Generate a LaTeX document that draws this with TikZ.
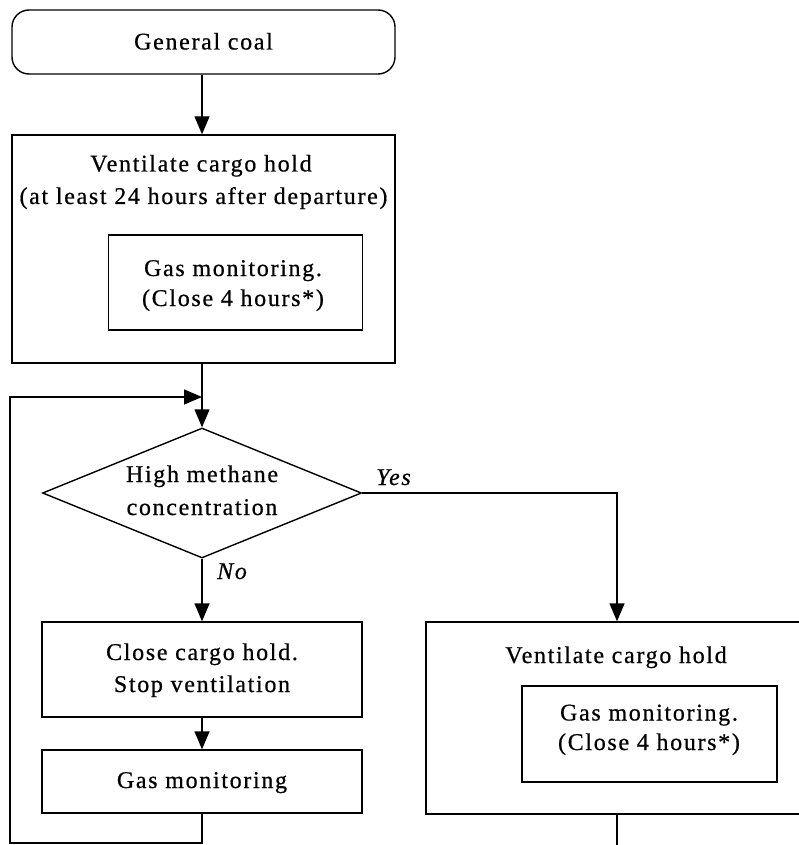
\documentclass[tikz,border=0pt]{standalone}
\usepackage{fontspec}
\setmainfont[LetterSpace=7,FakeBold=0.6]{Liberation Serif}
\usetikzlibrary{shapes.geometric,arrows.meta}
\tikzset{
  box/.style={draw, line width=1.4pt, inner sep=0pt, rectangle},
  txt/.style={font=\fontsize{24}{30}\selectfont, inner sep=0pt, anchor=base},
  itxt/.style={txt, font=\fontsize{24}{30}\selectfont\itshape},
  arr/.style={-{Triangle[length=18pt,width=15pt]}, line width=1.4pt},
  ln/.style={line width=1.4pt}
}
\begin{document}
\begin{tikzpicture}[x=1pt,y=-1pt]
\useasboundingbox (0,0) rectangle (799,845);
% top start box
\node[box, rounded corners=17pt, minimum width=383pt, minimum height=64pt] (start) at (203.5,42) {};
\node[txt] (startt) at (203.5,49.5) {General coal};
% ventilate box 1
\node[box, minimum width=383pt, minimum height=228pt] (vent1) at (203.5,249) {};
\node[txt] (v1a) at (201,171.5) {Ventilate cargo hold};
\node[txt] (v1b) at (203.5,204) {(at least 24 hours after departure)};
\node[box, minimum width=254pt, minimum height=95pt] (in1) at (235.5,282.5) {};
\node[txt] (in1a) at (233,276) {Gas monitoring.};
\node[txt] (in1b) at (233,306) {(Close 4 hours*)};
% decision
\node[draw, diamond, line width=1.4pt, inner sep=0pt, aspect=2.45, minimum width=319pt, minimum height=130pt] (dec) at (202,493) {};
\node[txt] (deca) at (202,482) {High methane};
\node[txt] (decb) at (202,515) {concentration};
\node[itxt] (yes) at (393.5,485) {Yes};
\node[itxt] (no) at (232,579) {No};
% close box
\node[box, minimum width=320pt, minimum height=95pt] (close) at (202,669.5) {};
\node[txt] (cla) at (202,660) {Close cargo hold.};
\node[txt] (clb) at (202,692) {Stop ventilation};
% gas box
\node[box, minimum width=320pt, minimum height=63pt] (gas) at (202,781.5) {};
\node[txt] (gast) at (202,788) {Gas monitoring};
% ventilate box 2
\node[box, minimum width=382pt, minimum height=192pt] (vent2) at (617,718) {};
\node[txt] (v2a) at (616,663) {Ventilate cargo hold};
\node[box, minimum width=255pt, minimum height=96pt] (in2) at (649.5,734) {};
\node[txt] (in2a) at (649,720.5) {Gas monitoring.};
\node[txt] (in2b) at (649,750) {(Close 4 hours*)};
% connectors
\coordinate (merge) at (202,397);
\coordinate (loopc) at (10,843);
\coordinate (rend) at (617,846);
\draw[arr] (start.south -| dec.north) -- (vent1.north -| dec.north);
\draw[ln] (vent1.south -| dec.north) -- (merge);
\draw[arr] (merge) -- (dec.north);
\draw[arr] (dec.east) -| (vent2.north);
\draw[arr] (dec.south) -- (close.north);
\draw[arr] (close.south) -- (gas.north);
\draw[arr] (gas.south) |- (loopc) |- (merge);
\draw[ln] (vent2.south) -- (rend);
\end{tikzpicture}
\end{document}
